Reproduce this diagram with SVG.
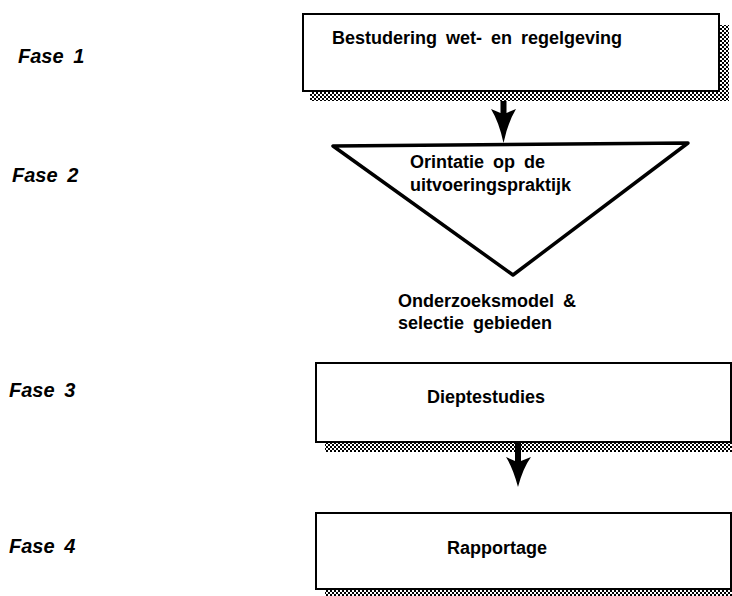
<svg xmlns="http://www.w3.org/2000/svg" width="732" height="596" viewBox="0 0 732 596">
  <defs>
    <pattern id="dots" width="4" height="4" patternUnits="userSpaceOnUse">
      <rect width="4" height="4" fill="#fff"/>
      <rect x="0" y="0" width="2" height="2" fill="#000"/>
      <rect x="2" y="2" width="2" height="2" fill="#000"/>
    </pattern>
  </defs>
  <style>
    .box { fill: #fff; stroke: #000; stroke-width: 2; }
    .shadow { fill: url(#dots); }
    .lbl { font-family: "Liberation Sans", Arial, sans-serif; font-weight: bold; font-size: 18px; word-spacing: 4px; fill: #000; }
    .fase { font-family: "Liberation Sans", Arial, sans-serif; font-weight: bold; font-style: italic; font-size: 20px; word-spacing: 4px; fill: #000; }
    .arrow { fill: #000; }
  </style>
  <rect width="732" height="596" fill="#fff"/>

  <g id="phase-labels">
    <text class="fase" x="18" y="63">Fase 1</text>
    <text class="fase" x="12" y="182">Fase 2</text>
    <text class="fase" x="9" y="397">Fase 3</text>
    <text class="fase" x="9" y="553">Fase 4</text>
  </g>

  <g id="node-bestudering">
    <rect class="shadow" x="719" y="25" width="10" height="76"/>
    <rect class="shadow" x="310" y="91" width="419" height="10"/>
    <rect class="box" x="303" y="14" width="416" height="77"/>
    <text class="lbl" x="332" y="44">Bestudering wet- en regelgeving</text>
  </g>

  <g id="node-orientatie">
    <polygon points="333,146 688,143 513,275" fill="#fff" stroke="#000" stroke-width="3.5" stroke-linejoin="round"/>
    <text class="lbl" x="410" y="168">Orintatie op de</text>
    <text class="lbl" x="410" y="191">uitvoeringspraktijk</text>
  </g>

  <g id="node-onderzoeksmodel">
    <text class="lbl" x="398" y="307">Onderzoeksmodel &amp;</text>
    <text class="lbl" x="398" y="329">selectie gebieden</text>
  </g>

  <g id="node-dieptestudies">
    <rect class="shadow" x="325" y="442" width="407" height="10"/>
    <rect class="box" x="316" y="363" width="415" height="79"/>
    <text class="lbl" x="427" y="403">Dieptestudies</text>
  </g>

  <g id="node-rapportage">
    <rect class="shadow" x="325" y="589" width="407" height="7"/>
    <rect class="box" x="316" y="513" width="415" height="76"/>
    <text class="lbl" x="447" y="554">Rapportage</text>
  </g>

  <g id="connectors">
    <path class="arrow" d="M 491 109 L 500.5 113 L 500.5 101 L 506.5 101 L 506.5 113 L 516 109 Q 508 122 503.5 143 Q 499 122 491 109 Z"/>
    <path class="arrow" d="M 506 457 L 515 461 L 515 442 L 521 442 L 521 461 L 531 457 Q 523 468 518 487 Q 513 468 506 457 Z"/>
  </g>
</svg>
